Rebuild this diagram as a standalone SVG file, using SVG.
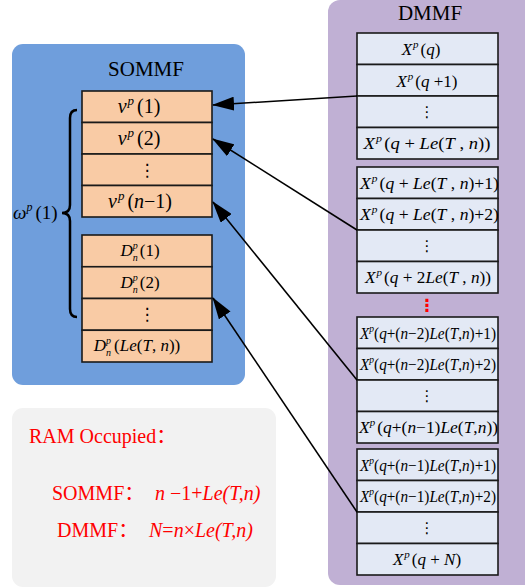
<svg xmlns="http://www.w3.org/2000/svg" width="525" height="588" viewBox="0 0 525 588" font-family="'Liberation Serif', 'Times New Roman', serif">
<defs>
<style>
.t{font-family:"Liberation Serif","Times New Roman",serif;fill:#000}
.cjk{font-family:"Liberation Serif","Times New Roman","Noto Sans CJK SC",serif}
.i{font-style:italic}
.c1{fill:#f9cba5;stroke:#1a1a1a;stroke-width:1.6}
.c2{fill:#e3e9f5;stroke:#1a1a1a;stroke-width:1.6}
.dots{font-family:"DejaVu Sans",sans-serif;fill:#000}
.red{fill:#ff0000}
.conn{stroke:#000;stroke-width:1.6;fill:none;marker-end:url(#ah)}
</style>
<marker id="ah" markerUnits="userSpaceOnUse" viewBox="0 0 22 14" refX="21" refY="7" markerWidth="22" markerHeight="14" orient="auto">
<path d="M0,0 L22,7 L0,14 Z" fill="#000"/>
</marker>
</defs>
<rect width="525" height="588" fill="#fff"/>

<g id="sommf">
<rect x="12" y="44" width="233" height="341" rx="11" fill="#6f9edc"/>
<text class="t" x="146" y="76" font-size="21" text-anchor="middle">SOMMF</text>
<g id="sommf-v">
<rect class="c1" x="82" y="91" width="130" height="31.5"/>
<rect class="c1" x="82" y="122.5" width="130" height="31.5"/>
<rect class="c1" x="82" y="154" width="130" height="31.5"/>
<rect class="c1" x="82" y="185.5" width="130" height="31.5"/>
<text class="t" x="139" y="113" font-size="20" text-anchor="middle"><tspan class="i">ν</tspan><tspan class="i" font-size="13" dy="-8" dx="1">p</tspan><tspan dy="8" dx="3">(1)</tspan></text>
<text class="t" x="139" y="145" font-size="20" text-anchor="middle"><tspan class="i">ν</tspan><tspan class="i" font-size="13" dy="-8" dx="1">p</tspan><tspan dy="8" dx="3">(2)</tspan></text>
<text class="dots" x="147" y="176" font-size="17" text-anchor="middle">⋮</text>
<text class="t" x="140" y="208" font-size="20" text-anchor="middle"><tspan class="i">ν</tspan><tspan class="i" font-size="13" dy="-8" dx="1">p</tspan><tspan dy="8" dx="3">(</tspan><tspan class="i">n</tspan><tspan>−1)</tspan></text>
</g>
<g id="sommf-d">
<rect class="c1" x="82" y="235" width="130" height="31.75"/>
<rect class="c1" x="82" y="266.75" width="130" height="31.75"/>
<rect class="c1" x="82" y="298.5" width="130" height="31.75"/>
<rect class="c1" x="82" y="330.25" width="130" height="31.75"/>
<text class="t" x="140" y="256" font-size="17" text-anchor="middle"><tspan class="i">D</tspan><tspan class="i" font-size="10" dy="-7">p</tspan><tspan class="i" font-size="10" dx="-5" dy="12">n</tspan><tspan dy="-5" dx="2">(1)</tspan></text>
<text class="t" x="140" y="288" font-size="17" text-anchor="middle"><tspan class="i">D</tspan><tspan class="i" font-size="10" dy="-7">p</tspan><tspan class="i" font-size="10" dx="-5" dy="12">n</tspan><tspan dy="-5" dx="2">(2)</tspan></text>
<text class="dots" x="147" y="320" font-size="17" text-anchor="middle">⋮</text>
<text class="t" x="137" y="351" font-size="17" text-anchor="middle"><tspan class="i">D</tspan><tspan class="i" font-size="10" dy="-7">p</tspan><tspan class="i" font-size="10" dx="-5" dy="12">n</tspan><tspan dy="-5" dx="3">(</tspan><tspan class="i">Le</tspan><tspan>(</tspan><tspan class="i">T</tspan><tspan>, </tspan><tspan class="i">n</tspan><tspan>))</tspan></text>
</g>
<g id="omega">
<path d="M77,110 Q70,110 70,118 L70,205 Q70,213 62,213 Q70,213 70,221 L70,309 Q70,317 77,317" fill="none" stroke="#000" stroke-width="2.5"/>
<text class="t" x="13" y="219" font-size="19"><tspan class="i">ω</tspan><tspan class="i" font-size="12" dy="-8">p</tspan><tspan dy="8" dx="3">(1)</tspan></text>
</g>
</g>

<g id="dmmf">
<rect x="328" y="0" width="210" height="585" rx="12" fill="#c0b0d4"/>
<text class="t" x="430" y="20" font-size="21" text-anchor="middle">DMMF</text>
<g id="dmmf-g1">
<rect class="c2" x="357" y="33" width="141" height="31.5"/>
<rect class="c2" x="357" y="64.5" width="141" height="31.5"/>
<rect class="c2" x="357" y="96" width="141" height="31.5"/>
<rect class="c2" x="357" y="127.5" width="141" height="31.5"/>
<text class="t" x="421" y="55" font-size="17" text-anchor="middle"><tspan class="i">X</tspan><tspan class="i" font-size="11" dy="-7" dx="1">p</tspan><tspan dy="7" dx="2">(</tspan><tspan class="i">q</tspan><tspan>)</tspan></text>
<text class="t" x="427" y="87" font-size="17" text-anchor="middle"><tspan class="i">X</tspan><tspan class="i" font-size="11" dy="-7" dx="1">p</tspan><tspan dy="7" dx="2">(</tspan><tspan class="i">q</tspan><tspan> +1)</tspan></text>
<text class="dots" x="427" y="117" font-size="15" text-anchor="middle">⋮</text>
<text class="t" x="427" y="149" font-size="17" text-anchor="middle" textLength="127" lengthAdjust="spacingAndGlyphs"><tspan class="i">X</tspan><tspan class="i" font-size="11" dy="-7" dx="1">p</tspan><tspan dy="7" dx="2">(</tspan><tspan class="i">q</tspan><tspan> + </tspan><tspan class="i">Le</tspan><tspan>(</tspan><tspan class="i">T</tspan><tspan> , </tspan><tspan class="i">n</tspan><tspan>))</tspan></text>
</g>
<g id="dmmf-g2">
<rect class="c2" x="357" y="167" width="141" height="31.5"/>
<rect class="c2" x="357" y="198.5" width="141" height="31.5"/>
<rect class="c2" x="357" y="230" width="141" height="31.5"/>
<rect class="c2" x="357" y="261.5" width="141" height="31.5"/>
<text class="t" x="360" y="189" font-size="17" textLength="139" lengthAdjust="spacingAndGlyphs"><tspan class="i">X</tspan><tspan class="i" font-size="11" dy="-7" dx="1">p</tspan><tspan dy="7" dx="2">(</tspan><tspan class="i">q</tspan><tspan> + </tspan><tspan class="i">Le</tspan><tspan>(</tspan><tspan class="i">T</tspan><tspan> , </tspan><tspan class="i">n</tspan><tspan>)+1)</tspan></text>
<text class="t" x="360" y="220" font-size="17" textLength="139" lengthAdjust="spacingAndGlyphs"><tspan class="i">X</tspan><tspan class="i" font-size="11" dy="-7" dx="1">p</tspan><tspan dy="7" dx="2">(</tspan><tspan class="i">q</tspan><tspan> + </tspan><tspan class="i">Le</tspan><tspan>(</tspan><tspan class="i">T</tspan><tspan> , </tspan><tspan class="i">n</tspan><tspan>)+2)</tspan></text>
<text class="dots" x="427" y="251" font-size="15" text-anchor="middle">⋮</text>
<text class="t" x="428" y="283" font-size="17" text-anchor="middle" textLength="126" lengthAdjust="spacingAndGlyphs"><tspan class="i">X</tspan><tspan class="i" font-size="11" dy="-7" dx="1">p</tspan><tspan dy="7" dx="2">(</tspan><tspan class="i">q</tspan><tspan> + 2</tspan><tspan class="i">Le</tspan><tspan>(</tspan><tspan class="i">T</tspan><tspan> , </tspan><tspan class="i">n</tspan><tspan>))</tspan></text>
</g>
<text class="dots red" x="427" y="311" font-size="17" text-anchor="middle" font-weight="bold">⋮</text>
<g id="dmmf-g3">
<rect class="c2" x="357" y="317" width="141" height="31.5"/>
<rect class="c2" x="357" y="348.5" width="141" height="31.5"/>
<rect class="c2" x="357" y="380" width="141" height="31.5"/>
<rect class="c2" x="357" y="411.5" width="141" height="31.5"/>
<text class="t" x="360" y="339" font-size="16" textLength="136" lengthAdjust="spacingAndGlyphs"><tspan class="i">X</tspan><tspan class="i" font-size="10" dy="-7">p</tspan><tspan dy="7">(</tspan><tspan class="i">q</tspan><tspan>+(</tspan><tspan class="i">n</tspan><tspan>−2)</tspan><tspan class="i">Le</tspan><tspan>(</tspan><tspan class="i">T</tspan><tspan>,</tspan><tspan class="i">n</tspan><tspan>)+1)</tspan></text>
<text class="t" x="360" y="370" font-size="16" textLength="136" lengthAdjust="spacingAndGlyphs"><tspan class="i">X</tspan><tspan class="i" font-size="10" dy="-7">p</tspan><tspan dy="7">(</tspan><tspan class="i">q</tspan><tspan>+(</tspan><tspan class="i">n</tspan><tspan>−2)</tspan><tspan class="i">Le</tspan><tspan>(</tspan><tspan class="i">T</tspan><tspan>,</tspan><tspan class="i">n</tspan><tspan>)+2)</tspan></text>
<text class="dots" x="427" y="401" font-size="15" text-anchor="middle">⋮</text>
<text class="t" x="359" y="433" font-size="16" textLength="139" lengthAdjust="spacingAndGlyphs"><tspan class="i">X</tspan><tspan class="i" font-size="10" dy="-7">p</tspan><tspan dy="7" dx="2">(</tspan><tspan class="i">q</tspan><tspan>+(</tspan><tspan class="i">n</tspan><tspan>−1)</tspan><tspan class="i">Le</tspan><tspan>(</tspan><tspan class="i">T</tspan><tspan>,</tspan><tspan class="i">n</tspan><tspan>))</tspan></text>
</g>
<g id="dmmf-g4">
<rect class="c2" x="357" y="449" width="141" height="31.5"/>
<rect class="c2" x="357" y="480.5" width="141" height="31.5"/>
<rect class="c2" x="357" y="512" width="141" height="31.5"/>
<rect class="c2" x="357" y="543.5" width="141" height="31.5"/>
<text class="t" x="360" y="471" font-size="16" textLength="136" lengthAdjust="spacingAndGlyphs"><tspan class="i">X</tspan><tspan class="i" font-size="10" dy="-7">p</tspan><tspan dy="7">(</tspan><tspan class="i">q</tspan><tspan>+(</tspan><tspan class="i">n</tspan><tspan>−1)</tspan><tspan class="i">Le</tspan><tspan>(</tspan><tspan class="i">T</tspan><tspan>,</tspan><tspan class="i">n</tspan><tspan>)+1)</tspan></text>
<text class="t" x="360" y="502" font-size="16" textLength="136" lengthAdjust="spacingAndGlyphs"><tspan class="i">X</tspan><tspan class="i" font-size="10" dy="-7">p</tspan><tspan dy="7">(</tspan><tspan class="i">q</tspan><tspan>+(</tspan><tspan class="i">n</tspan><tspan>−1)</tspan><tspan class="i">Le</tspan><tspan>(</tspan><tspan class="i">T</tspan><tspan>,</tspan><tspan class="i">n</tspan><tspan>)+2)</tspan></text>
<text class="dots" x="427" y="533" font-size="15" text-anchor="middle">⋮</text>
<text class="t" x="427" y="565" font-size="17" text-anchor="middle"><tspan class="i">X</tspan><tspan class="i" font-size="11" dy="-7" dx="1">p</tspan><tspan dy="7" dx="2">(</tspan><tspan class="i">q</tspan><tspan> + </tspan><tspan class="i">N</tspan><tspan>)</tspan></text>
</g>
</g>

<g id="ram">
<rect x="12" y="408" width="264" height="179" rx="11" fill="#f2f2f2"/>
<text class="cjk red" x="29" y="443" font-size="20">RAM Occupied：</text>
<text class="cjk red" x="52" y="500" font-size="20">SOMMF：</text>
<text class="t red" x="155" y="500" font-size="20"><tspan class="i">n</tspan><tspan> −1+</tspan><tspan class="i">Le(T,n)</tspan></text>
<text class="cjk red" x="57" y="537" font-size="20">DMMF：</text>
<text class="t red" x="149" y="537" font-size="20"><tspan class="i">N</tspan><tspan>=</tspan><tspan class="i">n</tspan><tspan>×</tspan><tspan class="i">Le(T,n)</tspan></text>
</g>

<g id="connectors">
<line class="conn" x1="357" y1="96" x2="213" y2="105"/>
<line class="conn" x1="357" y1="230" x2="213" y2="139"/>
<line class="conn" x1="357" y1="380" x2="213" y2="202"/>
<line class="conn" x1="357" y1="512" x2="213" y2="298"/>
</g>
</svg>
